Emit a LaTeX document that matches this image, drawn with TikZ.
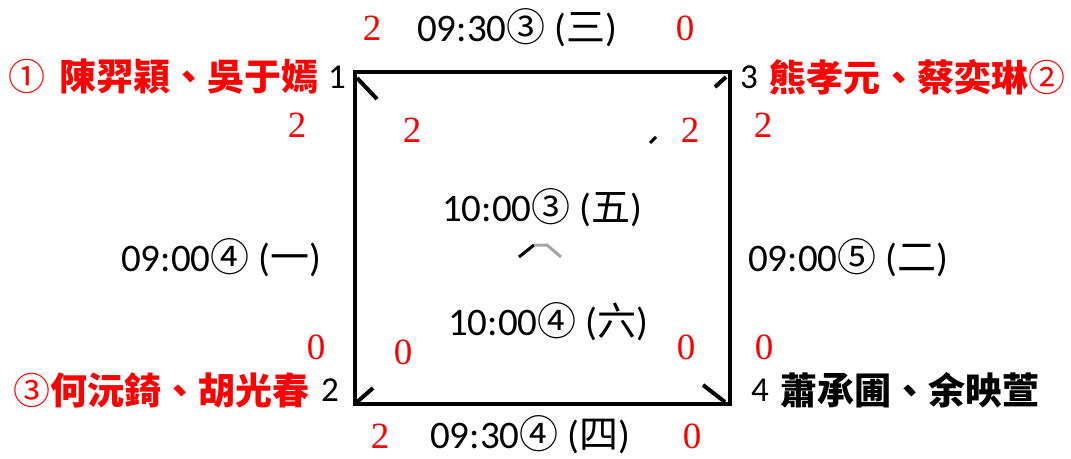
\documentclass[tikz,border=0pt]{standalone}
\usepackage{fontspec}
\setmainfont{Carlito}
\newfontfamily\cjk{Noto Sans CJK TC}
\newfontfamily\ser{Liberation Serif}
\definecolor{rd}{RGB}{255,0,0}
\tikzset{
  lab/.style={inner sep=0pt, font=\fontsize{39}{42}\selectfont},
  num/.style={inner sep=0pt, text=rd, font=\ser\fontsize{37}{40}\selectfont},
  cnum/.style={inner sep=0pt, font=\fontsize{35}{38}\selectfont},
  names/.style={inner sep=0pt, anchor=west, font=\cjk\bfseries\fontsize{37}{40}\selectfont},
  cornermark/.style={line width=4pt, line cap=butt},
  edge/.style={line width=4pt}
}
\newcommand{\cj}[1]{{\cjk #1}}
\begin{document}
\begin{tikzpicture}[x=1pt,y=-1pt]
\useasboundingbox (0,0) rectangle (1071,458);
% square
\coordinate (c1) at (355,72);
\coordinate (c3) at (730,72);
\coordinate (c4) at (730,404);
\coordinate (c2) at (355,404);
\draw[edge] (c1) -- (c3) -- (c4) -- (c2) -- cycle;
% corner marks
\coordinate (m1a) at (357,78); \coordinate (m1b) at (377,99);
\draw[cornermark] (m1a) -- (m1b);
\coordinate (m3a) at (726,77); \coordinate (m3b) at (715,87);
\draw[cornermark] (m3a) -- (m3b);
\coordinate (mxa) at (656,137); \coordinate (mxb) at (650,143);
\draw[line width=3pt] (mxa) -- (mxb);
\coordinate (m2a) at (357,402); \coordinate (m2b) at (373,388);
\draw[cornermark] (m2a) -- (m2b);
\coordinate (m4a) at (725,402); \coordinate (m4b) at (703,385);
\draw[cornermark] (m4a) -- (m4b);
\coordinate (ca) at (519,257); \coordinate (cb) at (534,245);
\coordinate (cc) at (547,245); \coordinate (cd) at (561,257);
\draw[line width=3pt] (ca) -- (cb);
\draw[line width=3pt, black!35] (cb) -- (cc) -- (cd);
% top
\node[num] (t2) at (372,28) {2};
\node[lab] (tt) at (517,28) {09:30\cj{③} (\cj{三})};
\node[num] (t0) at (685,28) {0};
% corner labels
\node[names, text=rd] (n1) at (8,77) {\cj{\mdseries ①}\hspace{0.4em}陳羿穎、吳于嫣};
\node[cnum] (k1) at (337,77) {1};
\node[cnum] (k3) at (749,77) {3};
\node[names, text=rd] (n3) at (769,77) {熊孝元、蔡奕琳\cj{\mdseries ②}};
\node[names, text=rd] (n2) at (13,390) {\cj{\mdseries ③}何沅錡、胡光春};
\node[cnum] (k2) at (330,390) {2};
\node[cnum] (k4) at (760,390) {4};
\node[names] (n4) at (780,390) {蕭承圃、余映萱};
% red numbers
\node[num] (a1) at (297,125) {2};
\node[num] (a2) at (412,130) {2};
\node[num] (a3) at (690,130) {2};
\node[num] (a4) at (763,125) {2};
\node[num] (b1) at (316,347) {0};
\node[num] (b2) at (403,352) {0};
\node[num] (b3) at (686,347) {0};
\node[num] (b4) at (764,347) {0};
% labels
\node[lab] (l5) at (542,208) {10:00\cj{③} (\cj{五})};
\node[lab] (l6) at (548,322) {10:00\cj{④} (\cj{六})};
\node[lab] (l1) at (221,258) {09:00\cj{④} (\cj{一})};
\node[lab] (l2) at (848,258) {09:00\cj{⑤} (\cj{二})};
% bottom
\node[num] (d2) at (380,436) {2};
\node[lab] (bb) at (530,435) {09:30\cj{④} (\cj{四})};
\node[num] (d0) at (692,436) {0};
\end{tikzpicture}
\end{document}
